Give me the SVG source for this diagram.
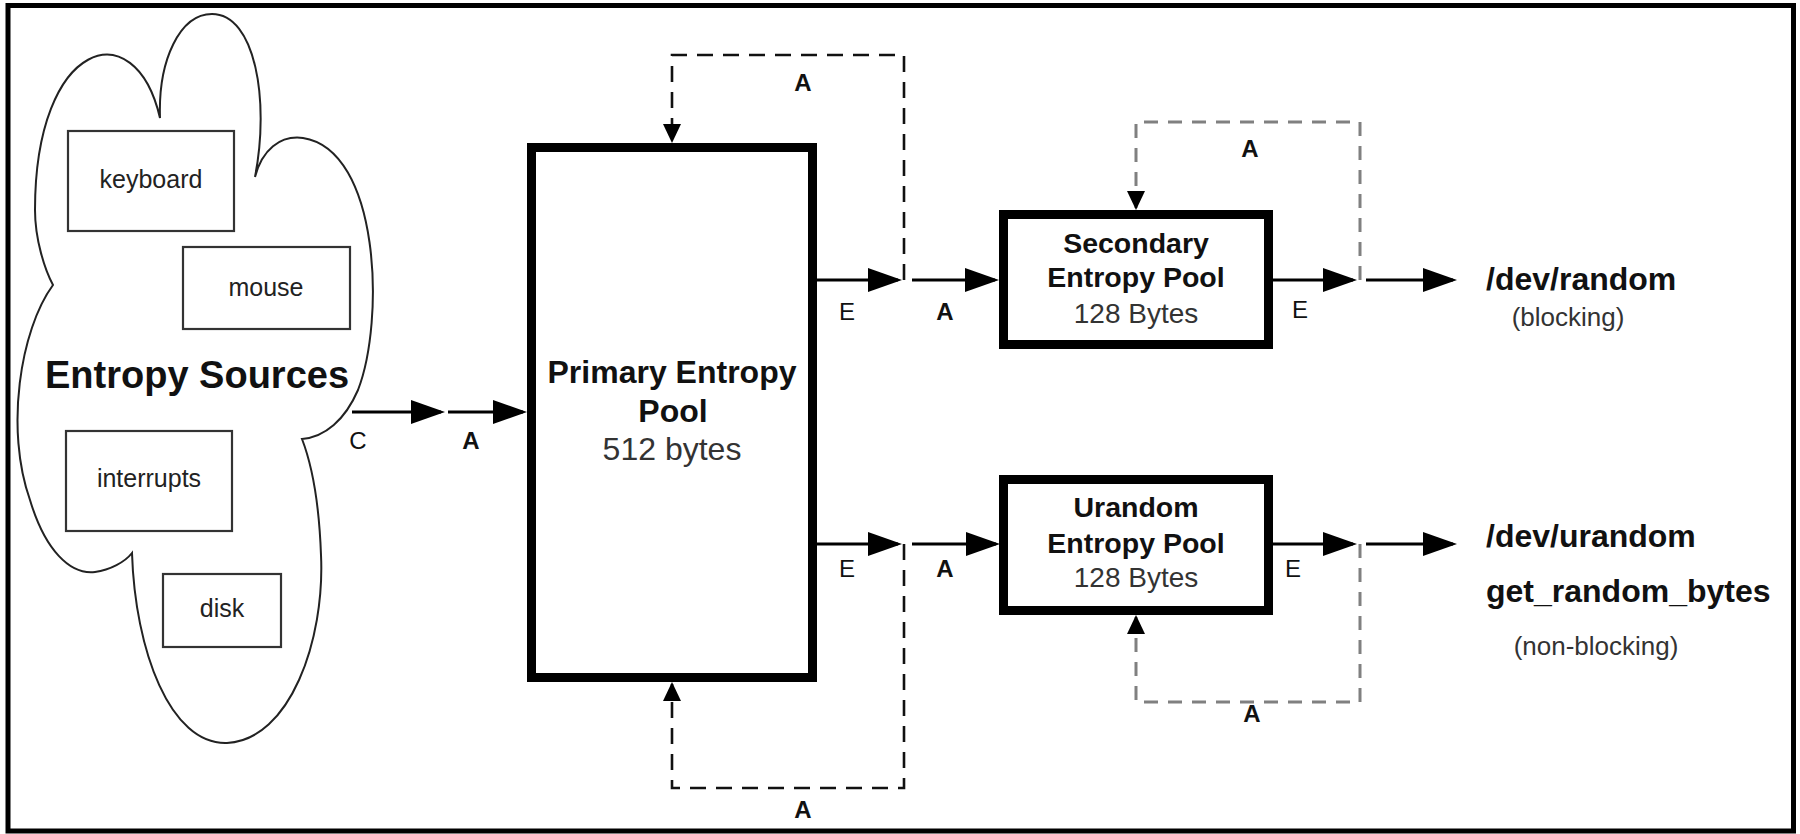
<svg xmlns="http://www.w3.org/2000/svg" width="1800" height="834" viewBox="0 0 1800 834">
<style>
text{font-family:"Liberation Sans",Arial,sans-serif;}
.src{font-size:25px;fill:#222;text-anchor:middle;}
.b{font-weight:bold;fill:#111;}
.sub{fill:#333;}
.mid{text-anchor:middle;}
.lbl{font-size:24px;fill:#111;text-anchor:middle;}
.lblb{font-size:24px;font-weight:bold;fill:#111;text-anchor:middle;}
.box{fill:#fff;stroke:#000;stroke-width:9;}
.ibox{fill:#fff;stroke:#333;stroke-width:2.2;}
.arr{fill:none;stroke:#000;stroke-width:3.2;marker-end:url(#ah);}
.dk{fill:none;stroke:#111;stroke-width:2.6;stroke-dasharray:16 10;marker-end:url(#ahs);}
.gr{fill:none;stroke:#808080;stroke-width:3;stroke-dasharray:14 10;marker-end:url(#ahs);}
</style>
<defs>
<marker id="ah" markerUnits="userSpaceOnUse" viewBox="0 0 34 24" markerWidth="34" markerHeight="24" refX="30" refY="12" orient="auto"><path d="M0,0 L34,12 L0,24 z" fill="#000"/></marker>
<marker id="ahs" markerUnits="userSpaceOnUse" viewBox="0 0 19 18" markerWidth="19" markerHeight="18" refX="17" refY="9" orient="auto"><path d="M0,0 L19,9 L0,18 z" fill="#000"/></marker>
</defs>
<rect x="0" y="0" width="1800" height="834" fill="#fff"/>
<rect x="8" y="5.5" width="1785.5" height="825.5" fill="none" stroke="#000" stroke-width="5"/>

<g id="entropy-sources">
<path d="M160,118 C135,10 35,40 35,210 C35,240 45,270 53,285 C20,330 5,430 30,500 C45,550 70,575 95,572 C110,570 125,562 132,553 C135,650 170,745 227,743 C290,740 325,640 321,555 C319,500 312,465 302,439 C325,437 345,420 358,390 C385,320 380,150 303,138 C280,135 262,150 255,177 C270,100 255,14 212,14 C180,14 158,60 160,118 Z" fill="#fff" stroke="#222" stroke-width="2"/>
<text class="b mid" x="197" y="388" font-size="38">Entropy Sources</text>
</g>
<g id="keyboard"><rect class="ibox" x="68" y="131" width="166" height="100"/><text class="src" x="151" y="188">keyboard</text></g>
<g id="mouse"><rect class="ibox" x="183" y="247" width="167" height="82"/><text class="src" x="266" y="296">mouse</text></g>
<g id="interrupts"><rect class="ibox" x="66" y="431" width="166" height="100"/><text class="src" x="149" y="487">interrupts</text></g>
<g id="disk"><rect class="ibox" x="163" y="574" width="118" height="73"/><text class="src" x="222" y="617">disk</text></g>

<g id="primary-pool">
<rect class="box" x="531.5" y="147.5" width="281" height="530"/>
<text class="b mid" x="672" y="383" font-size="32">Primary Entropy</text>
<text class="b mid" x="673" y="422" font-size="32">Pool</text>
<text class="sub mid" x="672" y="460" font-size="32">512 bytes</text>
</g>

<g id="secondary-pool">
<rect class="box" x="1003.5" y="214.5" width="265" height="130"/>
<text class="b mid" x="1136" y="253" font-size="28.5">Secondary</text>
<text class="b mid" x="1136" y="287" font-size="28.5">Entropy Pool</text>
<text class="sub mid" x="1136" y="323" font-size="28">128 Bytes</text>
</g>

<g id="urandom-pool">
<rect class="box" x="1003.5" y="479.5" width="265" height="131"/>
<text class="b mid" x="1136" y="517" font-size="28.5">Urandom</text>
<text class="b mid" x="1136" y="553" font-size="28.5">Entropy Pool</text>
<text class="sub mid" x="1136" y="587" font-size="28">128 Bytes</text>
</g>

<g id="dev-random">
<text class="b" x="1486" y="290" font-size="32">/dev/random</text>
<text class="sub mid" x="1568" y="326" font-size="26">(blocking)</text>
</g>
<g id="dev-urandom">
<text class="b" x="1486" y="547" font-size="32">/dev/urandom</text>
<text class="b" x="1486" y="602" font-size="32">get_random_bytes</text>
<text class="sub mid" x="1596" y="655" font-size="26">(non-blocking)</text>
</g>

<g id="connectors">
<path class="arr" d="M352,412 H441"/>
<path class="arr" d="M448,412 H523"/>
<path class="arr" d="M817,280 H898"/>
<path class="arr" d="M912,280 H995"/>
<path class="arr" d="M817,544 H898"/>
<path class="arr" d="M912,544 H996"/>
<path class="arr" d="M1273,280 H1353"/>
<path class="arr" d="M1366,280 H1453"/>
<path class="arr" d="M1272,544 H1353"/>
<path class="arr" d="M1366,544 H1453"/>
<path class="dk" d="M904,280 V55 H672 V141"/>
<path class="dk" d="M904,544 V788 H672 V684"/>
<path class="gr" d="M1360,280 V122 H1136 V208"/>
<path class="gr" d="M1360,544 V702 H1136 V617"/>
<text class="lbl" x="358" y="449">C</text>
<text class="lblb" x="471" y="449">A</text>
<text class="lbl" x="847" y="320">E</text>
<text class="lblb" x="945" y="320">A</text>
<text class="lbl" x="847" y="577">E</text>
<text class="lblb" x="945" y="577">A</text>
<text class="lblb" x="803" y="91">A</text>
<text class="lblb" x="803" y="818">A</text>
<text class="lbl" x="1300" y="318">E</text>
<text class="lbl" x="1293" y="577">E</text>
<text class="lblb" x="1250" y="157">A</text>
<text class="lblb" x="1252" y="722">A</text>
</g>
</svg>
